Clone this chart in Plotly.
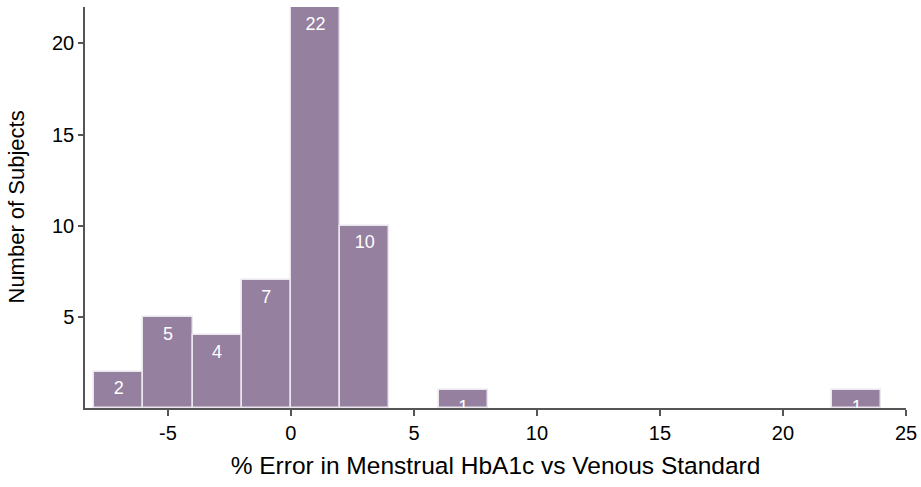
import plotly.graph_objects as go

# histogram bins (width 2)
bin_centers = [-7, -5, -3, -1, 1, 3, 7, 23]
counts = [2, 5, 4, 7, 22, 10, 1, 1]
bin_width = 2

x_ticks = [-5, 0, 5, 10, 15, 20, 25]
x_tick_labels = ["-5", "0", "5", "10", "15", "20", "25"]
y_ticks = [5, 10, 15, 20]

BAR_COLOR = "#96809f"
FONT = "Liberation Sans, Arial, Helvetica"

fig = go.Figure()
fig.add_trace(go.Bar(
    x=bin_centers,
    y=counts,
    width=[bin_width] * len(counts),
    marker={"color": BAR_COLOR, "line": {"color": "#ece6ef", "width": 1.5}},
    hoverinfo="x+y",
))
# count labels sit just under the bar tops; clipped at the axis like the original
fig.add_trace(go.Scatter(
    x=bin_centers,
    y=[c - 1.0 for c in counts],
    mode="text",
    text=[str(c) for c in counts],
    textfont={"family": FONT, "size": 18, "color": "white"},
    cliponaxis=True,
    hoverinfo="skip",
))

fig.update_layout(
    width=921,
    height=487,
    showlegend=False,
    paper_bgcolor="white",
    plot_bgcolor="white",
    margin={"l": 85, "r": 15, "t": 7, "b": 79},
    font={"family": FONT, "size": 20, "color": "black"},
    bargap=0,
)
fig.update_xaxes(
    range=[-8.37, 25],
    tickvals=x_ticks,
    ticktext=x_tick_labels,
    ticks="outside",
    ticklen=6,
    tickwidth=1.5,
    tickcolor="#555",
    showline=True,
    linecolor="#555",
    linewidth=1.5,
    showgrid=False,
    zeroline=False,
    automargin=False,
    title={"text": "% Error in Menstrual HbA1c vs Venous Standard", "font": {"size": 24.5}, "standoff": 14},
)
fig.update_yaxes(
    range=[0, 22],
    tickvals=y_ticks,
    ticks="outside",
    ticklen=5,
    tickwidth=1.5,
    tickcolor="#555",
    showline=True,
    linecolor="#555",
    linewidth=1.5,
    showgrid=False,
    zeroline=False,
    automargin=False,
)
fig.add_annotation(
    text="Number of Subjects",
    textangle=-90,
    xref="paper", yref="paper",
    x=0, y=0.5,
    xanchor="center", yanchor="middle",
    xshift=-69,
    showarrow=False,
    font={"family": FONT, "size": 22, "color": "black"},
)

# drop the default 8px body margin so the figure fills the window exactly
fig.write_html(
    "out.html",
    config={"displayModeBar": False},
    post_script="document.body.style.margin = '0';",
)
